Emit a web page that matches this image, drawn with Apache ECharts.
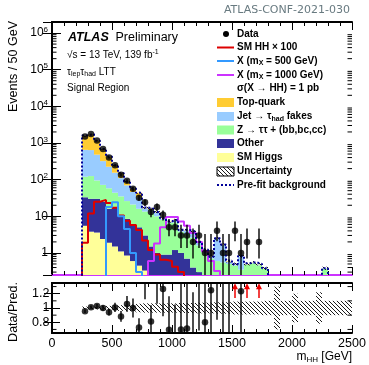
<!DOCTYPE html>
<html lang="en">
<head>
<meta charset="UTF-8">
<title>mHH LTT signal region</title>
<script src="https://cdn.jsdelivr.net/npm/echarts@6/dist/echarts.min.js"></script>
<style>
html, body { margin: 0; padding: 0; background: #fff; }
#chart { width: 369px; height: 365px; }
</style>
</head>
<body>
<div id="chart"></div>
<script>
// lower edges of the 50 GeV bins
var binLow = [250, 300, 350, 400, 450, 500, 550, 600, 650, 700, 750, 800, 850, 900, 950,
    1000, 1050, 1100, 1150, 1200, 1250, 1300, 1350, 1400, 1450, 1500, 1550, 1600, 1650, 1700,
    1750, 1800, 1850, 1900, 1950, 2000, 2050, 2100, 2150, 2200, 2250, 2300, 2350, 2400, 2450];
var binWidth = 50;

// observed events
var dataCounts = [1500, 1750, 1170, 680, 400, 245, 135, 93, 56, 32, 24, 13, 18, 11, 5,
    5, 3, 3, 2, 3, 1, 1, 4, 1, 1, 4, 1, 2, 0, 2,
    0, 0, 0, 0, 0, 0, 0, 0, 0, 0, 0, 0, 0, 0, 0];

// backgrounds (post-fit), bottom of the stack first
var smHiggs = [5.5, 3.8, 3.6, 2.4, 1.9, 1.5, 1.1, 0.85, 0.6, 0.45, 0.33, 0.25, 0.2, 0.15, 0.12,
    0.1, 0.08, 0.06, 0.05, 0.04, 0.03, 0.03, 0.02, 0.02, 0.02, 0.01, 0.01, 0.01, 0.01, 0.01,
    0.005, 0.005, 0.004, 0.003, 0.003, 0.003, 0.002, 0.002, 0.002, 0.002, 0.002, 0.002, 0.002, 0.002, 0.002];
var other = [27.5, 26.2, 26.4, 22.6, 14.1, 15.5, 8.9, 7.65, 5.2, 4.55, 2.67, 1.25, 0.8, 0.75, 0.78,
    1.1, 0.92, 0.64, 0.35, 0.26, 0.17, 0.12, 0.1, 0.08, 0.06, 0.05, 0.04, 0.03, 0.02, 0.02,
    0.015, 0.01, 0.01, 0.01, 0.01, 0.01, 0.008, 0.008, 0.008, 0.008, 0.008, 0.006, 0.006, 0.006, 0.006];
var zTauTau = [87, 95, 65, 47, 42, 27, 25, 17.5, 15.2, 11, 10.5, 10.1, 9, 7.1, 5.7,
    5.6, 2.8, 2.6, 2.2, 1.3, 0.9, 0.55, 0.48, 0.45, 0.42, 0.39, 0.3, 0.44, 0.49, 0.43,
    0.35, 0.17, 0.12, 0.1, 0.09, 0.14, 0.08, 0.08, 0.08, 0.15, 0.36, 0.07, 0.07, 0.07, 0.07];
var jetFakes = [530, 515, 385, 248, 167, 111, 75, 44, 25, 17, 3.0, 3.7, 2.6, 0.5, 0.4,
    1.0, 0.4, 0.8, 1.1, 0.35, 0.12, 0.08, 1.85, 1.1, 0.08, 0.04, 0.45, 0.01, 0.02, 0.03,
    0.005, 0.01, 0.01, 0.005, 0.005, 0.01, 0.005, 0.005, 0.005, 0.01, 0.01, 0.004, 0.004, 0.004, 0.004];
var topQuark = [920, 1090, 660, 360, 200, 88, 43, 18, 10, 11, 0.5, 0.7, 0.4, 0.2, 0.2,
    0.2, 0.1, 0.1, 0.1, 0.05, 0.03, 0.02, 0.05, 0.05, 0.02, 0.01, 0.01, 0.01, 0.01, 0.01,
    0.005, 0.005, 0.005, 0.002, 0.002, 0.002, 0.002, 0.002, 0.002, 0.002, 0.002, 0.001, 0.001, 0.001, 0.001];

// pre-fit total background
var preFit = [1600, 1760, 1150, 690, 430, 245, 150, 88, 57, 44, 17.5, 16, 13, 8.8, 7.3,
    8.1, 4.3, 4.2, 3.8, 2.0, 1.25, 0.8, 2.5, 1.7, 0.62, 0.5, 0.82, 0.52, 0.56, 0.5,
    0.38, 0.2, 0.15, 0.1, 0.1, 0.14, 0.1, 0.1, 0.1, 0.16, 0.38, 0.08, 0.08, 0.08, 0.08];

// relative uncertainty of the background
var relUnc = [0.02, 0.02, 0.02, 0.025, 0.03, 0.035, 0.04, 0.045, 0.05, 0.06, 0.065, 0.065, 0.065, 0.065, 0.065,
    0.065, 0.07, 0.07, 0.07, 0.075, 0.075, 0.075, 0.08, 0.08, 0.08, 0.09, 0.09, 0.09, 0.09, 0.09,
    0.1, 0.1, 0.3, 0.1, 0.1, 0.2, 0.1, 0.1, 0.1, 0.22, 0.1, 0.1, 0.1, 0.1, 0.1];

// signals
var smHH = [1.9, 12, 25, 28, 23, 17, 10.5, 7.5, 5.8, 4.2, 2.2, 1.2, 0.9, 0.65, 0.6,
    0.42, 0.3, 0.2, 0, 0, 0, 0, 0, 0, 0, 0, 0, 0, 0, 0,
    0, 0, 0, 0, 0, 0, 0, 0, 0, 0, 0, 0, 0, 0, 0];
var x500 = [0, 0, 0, 0, 18, 24, 10, 4.5, 1.0, 0.3, 0, 0, 0, 0, 0,
    0, 0, 0, 0, 0, 0, 0, 0, 0, 0, 0, 0, 0, 0, 0,
    0, 0, 0, 0, 0, 0, 0, 0, 0, 0, 0, 0, 0, 0, 0];
var x1000 = [0, 0, 0, 0, 0, 0, 0, 0, 0, 0, 0, 0.6, 1.8, 5, 9.5,
    9.5, 7.2, 5.5, 3.5, 2.0, 1.1, 0.6, 0.32, 0, 0, 0, 0, 0, 0, 0,
    0, 0, 0, 0, 0, 0, 0, 0, 0, 0, 0, 0, 0, 0, 0];

var xTicks = [0, 500, 1000, 1500, 2000, 2500];
var ratioLabels = [0.8, 1, 1.2];

var FONT = '"Liberation Sans", Arial, Helvetica, sans-serif';
var TINY = 1e-4;
var YMIN = 0.25, YMAX = 2e6, RMIN = 0.65, RMAX = 1.35;
var nb = binLow.length;

// small-count poisson intervals (68%)
var garwood = {1: [0.173, 3.30], 2: [0.708, 4.64], 3: [1.37, 5.92], 4: [2.09, 7.16], 5: [2.84, 8.38]};
function dataErr(n) {
    if (garwood[n]) return garwood[n];
    return [n - Math.sqrt(n), n + Math.sqrt(n)];
}

var stackVals = [smHiggs, other, zTauTau, jetFakes, topQuark];
var stackCols = ['#ffff99', '#333399', '#99ff99', '#99ccff', '#ffcc33'];

var total = [];
var stackRects = [[], [], [], [], []];
for (var i = 0; i < nb; i++) {
    var low = 0;
    for (var k = 0; k < stackVals.length; k++) {
        var up = low + stackVals[k][i];
        stackRects[k].push([binLow[i], binLow[i] + binWidth, low > 0 ? low : TINY, up]);
        low = up;
    }
    total.push(low);
}

var hatch = document.createElement('canvas');
hatch.width = 4; hatch.height = 4;
(function () {
    var c = hatch.getContext('2d');
    c.strokeStyle = '#000'; c.lineWidth = 0.9;
    c.beginPath();
    c.moveTo(0, 0); c.lineTo(4, 4);
    c.moveTo(-2, 2); c.lineTo(2, 6);
    c.moveTo(2, -2); c.lineTo(6, 2);
    c.stroke();
})();
var hatchFill = {image: hatch, repeat: 'repeat'};

var mainUnc = [], ratioUnc = [];
for (var i = 0; i < nb; i++) {
    mainUnc.push([binLow[i], binLow[i] + binWidth, total[i] * (1 - relUnc[i]), total[i] * (1 + relUnc[i])]);
    ratioUnc.push([binLow[i], binLow[i] + binWidth, 1 - relUnc[i], 1 + relUnc[i]]);
}

var dataPts = [], dataBars = [], ratioPts = [], ratioBars = [], ratioArrows = [];
for (var i = 0; i < nb; i++) {
    var n = dataCounts[i];
    if (n <= 0) continue;
    var xc = binLow[i] + binWidth / 2;
    var e = dataErr(n);
    dataPts.push([xc, n]);
    dataBars.push([xc, e[0], e[1]]);
    var r = n / total[i];
    if (e[0] / total[i] > RMAX) {
        ratioArrows.push([xc, 1.14, 1.345]);
    } else {
        ratioPts.push([xc, r]);
        ratioBars.push([xc, e[0] / total[i], e[1] / total[i]]);
    }
}

function stepPoints(vals) {
    var pts = [[binLow[0], TINY]];
    for (var i = 0; i < nb; i++) {
        var v = vals[i] > 0 ? vals[i] : TINY;
        pts.push([binLow[i], v]);
        pts.push([binLow[i] + binWidth, v]);
    }
    pts.push([binLow[nb - 1] + binWidth, TINY]);
    return pts;
}

function rectSeries(data, fill, z, gi, stroke) {
    return {
        type: 'custom', xAxisIndex: gi * 2, yAxisIndex: gi * 2, z: z, silent: true,
        encode: {x: [0, 1], y: [2, 3]}, data: data,
        renderItem: function (params, api) {
            var a = api.coord([api.value(0), api.value(3)]);
            var b = api.coord([api.value(1), api.value(2)]);
            var cs = params.coordSys;
            var sh = echarts.graphic.clipRectByRect(
                {x: a[0], y: a[1], width: b[0] - a[0], height: b[1] - a[1]},
                {x: cs.x, y: cs.y, width: cs.width, height: cs.height});
            if (!sh) return;
            return {type: 'rect', shape: sh, style: {fill: fill, stroke: stroke || null}};
        }
    };
}

function barSeries(data, gi, z) {
    return {
        type: 'custom', xAxisIndex: gi * 2, yAxisIndex: gi * 2, z: z, silent: true,
        encode: {x: 0, y: [1, 2]}, data: data,
        renderItem: function (params, api) {
            var cs = params.coordSys;
            var p0 = api.coord([api.value(0), api.value(1)]);
            var p1 = api.coord([api.value(0), api.value(2)]);
            var y0 = Math.min(Math.max(p0[1], cs.y), cs.y + cs.height);
            var y1 = Math.min(Math.max(p1[1], cs.y), cs.y + cs.height);
            if (y0 === y1) return;
            return {type: 'line', shape: {x1: p0[0], y1: y0, x2: p0[0], y2: y1},
                style: {stroke: '#000', lineWidth: 1.4}};
        }
    };
}

function minorTickSeries(values, gi, len) {
    return {
        type: 'custom', xAxisIndex: gi * 2, yAxisIndex: gi * 2, z: 10, silent: true,
        encode: {y: 0}, data: values.map(function (v) { return [v]; }),
        renderItem: function (params, api) {
            var cs = params.coordSys;
            var y = api.coord([0, api.value(0)])[1];
            if (y < cs.y || y > cs.y + cs.height) return;
            return {type: 'group', children: [
                {type: 'line', shape: {x1: cs.x, y1: y, x2: cs.x + len, y2: y}, style: {stroke: '#000', lineWidth: 1}},
                {type: 'line', shape: {x1: cs.x + cs.width - len, y1: y, x2: cs.x + cs.width, y2: y}, style: {stroke: '#000', lineWidth: 1}}
            ]};
        }
    };
}

var logMinor = [];
for (var d = -1; d <= 6; d++) {
    for (var m = 2; m <= 9; m++) logMinor.push(m * Math.pow(10, d));
}
var ratioMinor = [0.7, 0.9, 1.1, 1.3];

function xAxisCfg(gi, pos, labels, lineColor) {
    return {
        gridIndex: gi, type: 'value', position: pos, min: 0, max: 2500, interval: 500,
        axisLine: {show: true, onZero: false, lineStyle: {color: lineColor, width: 2}},
        axisTick: {inside: true, length: 8, lineStyle: {color: '#000'}},
        minorTick: {show: true, splitNumber: 5, length: 4, lineStyle: {color: '#000'}},
        splitLine: {show: false}, minorSplitLine: {show: false},
        axisLabel: labels ? {show: true, fontFamily: FONT, fontSize: 12.5, color: '#000', margin: 4,
            customValues: xTicks, formatter: function (v) { return String(v); }} : {show: false}
    };
}

function logLabel(v) {
    var p = Math.round(Math.log10(v));
    if (Math.abs(Math.log10(v) - p) > 1e-6) return '';
    if (p === 0) return '1';
    if (p === 1) return '10';
    return '10{sup|' + p + '}';
}

var richSup = {
    sup: {fontFamily: FONT, fontSize: 8, color: '#000', padding: [0, 0, 7, 0]}
};

var legendRows = [
    {y: 34, kind: 'dot', text: 'Data'},
    {y: 47.5, kind: 'line', color: '#dd0000', text: 'SM HH \u00d7 100'},
    {y: 61, kind: 'line', color: '#3399ff', text: 'X (m{sub|X} = 500 GeV)'},
    {y: 75, kind: 'line', color: '#cc33ff', text: 'X (m{sub|X} = 1000 GeV)'},
    {y: 88.5, kind: 'none', text: '\u03c3(X \u2192 HH) = 1 pb'},
    {y: 102.5, kind: 'box', color: stackCols[4], text: 'Top-quark'},
    {y: 116.5, kind: 'box', color: stackCols[3], text: 'Jet \u2192 \u03c4{sub|had} fakes'},
    {y: 130, kind: 'box', color: stackCols[2], text: 'Z \u2192 \u03c4\u03c4 + (bb,bc,cc)'},
    {y: 143.5, kind: 'box', color: stackCols[1], text: 'Other'},
    {y: 157.5, kind: 'box', color: stackCols[0], text: 'SM Higgs'},
    {y: 171.5, kind: 'hatch', text: 'Uncertainty'},
    {y: 185, kind: 'dots', color: '#000099', text: 'Pre-fit background'}
];

var legendRich = {
    sub: {fontFamily: FONT, fontWeight: 'bold', fontSize: 7, color: '#000', padding: [5, 0, 0, 0]}
};

var graphics = [];
legendRows.forEach(function (row) {
    var x0 = 217, x1 = 234;
    if (row.kind === 'dot') {
        graphics.push({type: 'circle', shape: {cx: 226, cy: row.y, r: 3}, style: {fill: '#000'}});
    } else if (row.kind === 'line') {
        graphics.push({type: 'line', shape: {x1: x0, y1: row.y, x2: x1, y2: row.y}, style: {stroke: row.color, lineWidth: 2}});
    } else if (row.kind === 'box') {
        graphics.push({type: 'rect', shape: {x: x0, y: row.y - 4.5, width: x1 - x0, height: 9}, style: {fill: row.color}});
    } else if (row.kind === 'hatch') {
        graphics.push({type: 'rect', shape: {x: x0, y: row.y - 4.5, width: x1 - x0, height: 9}, style: {fill: hatchFill, stroke: '#000', lineWidth: 1}});
    } else if (row.kind === 'dots') {
        graphics.push({type: 'line', shape: {x1: x0, y1: row.y, x2: x1, y2: row.y}, style: {stroke: row.color, lineWidth: 2, lineDash: [2, 2]}});
    }
    graphics.push({type: 'text', x: 237, y: row.y, style: {text: row.text, fontFamily: FONT, fontWeight: 'bold',
        fontSize: 10, fill: '#000', align: 'left', verticalAlign: 'middle', rich: legendRich}});
});

var plainRich = {
    sub: {fontFamily: FONT, fontSize: 7, color: '#000', padding: [5, 0, 0, 0]},
    sup: {fontFamily: FONT, fontSize: 7, color: '#000', padding: [0, 0, 6, 0]}
};

graphics.push(
    {type: 'text', x: 350, y: 10, style: {text: 'ATLAS-CONF-2021-030', fontFamily: '"DejaVu Sans", sans-serif', fontSize: 11,
        fill: '#687a80', align: 'right', verticalAlign: 'middle'}},
    {type: 'text', x: 68, y: 38, style: {text: 'ATLAS', fontFamily: FONT, fontWeight: 'bold', fontStyle: 'italic',
        fontSize: 12.5, fill: '#000', align: 'left', verticalAlign: 'middle'}},
    {type: 'text', x: 115.5, y: 38, style: {text: 'Preliminary', fontFamily: FONT, fontSize: 12.5,
        fill: '#000', align: 'left', verticalAlign: 'middle'}},
    {type: 'text', x: 67, y: 55.5, style: {text: '\u221as = 13 TeV, 139 fb{sup|-1}', fontFamily: FONT, fontSize: 10,
        fill: '#000', align: 'left', verticalAlign: 'middle', rich: plainRich}},
    {type: 'text', x: 67, y: 72, style: {text: '\u03c4{sub|lep}\u03c4{sub|had} LTT', fontFamily: FONT, fontSize: 10,
        fill: '#000', align: 'left', verticalAlign: 'middle', rich: plainRich}},
    {type: 'text', x: 67, y: 88, style: {text: 'Signal Region', fontFamily: FONT, fontSize: 10,
        fill: '#000', align: 'left', verticalAlign: 'middle'}},
    {type: 'text', x: 14, y: 21, rotation: Math.PI / 2, style: {text: 'Events / 50 GeV', fontFamily: FONT, fontSize: 12.5,
        fill: '#000', align: 'right', verticalAlign: 'middle'}},
    {type: 'text', x: 14, y: 312, rotation: Math.PI / 2, style: {text: 'Data/Pred.', fontFamily: FONT, fontSize: 12.5,
        fill: '#000', align: 'center', verticalAlign: 'middle'}},
    {type: 'text', x: 352, y: 357, style: {text: 'm{sub|HH} [GeV]', fontFamily: FONT, fontSize: 12,
        fill: '#000', align: 'right', verticalAlign: 'middle',
        rich: {sub: {fontFamily: FONT, fontSize: 8, color: '#000', padding: [6, 0, 0, 0]}}}}
);

var series = [];
for (var k = 0; k < stackVals.length; k++) {
    series.push(rectSeries(stackRects[k], stackCols[k], 1, 0));
}
series.push(rectSeries(mainUnc, hatchFill, 2, 0));
series.push({type: 'line', xAxisIndex: 0, yAxisIndex: 0, z: 3, data: stepPoints(smHH), symbol: 'none',
    lineStyle: {color: '#dd0000', width: 2}, silent: true});
series.push({type: 'line', xAxisIndex: 0, yAxisIndex: 0, z: 3, data: stepPoints(x500), symbol: 'none',
    lineStyle: {color: '#3399ff', width: 2}, silent: true});
series.push({type: 'line', xAxisIndex: 0, yAxisIndex: 0, z: 3, data: stepPoints(x1000), symbol: 'none',
    lineStyle: {color: '#cc33ff', width: 2}, silent: true});
series.push({type: 'line', xAxisIndex: 0, yAxisIndex: 0, z: 4, data: stepPoints(preFit), symbol: 'none',
    lineStyle: {color: '#000099', width: 2, type: [2, 2]}, silent: true});
series.push(barSeries(dataBars, 0, 5));
series.push({type: 'scatter', xAxisIndex: 0, yAxisIndex: 0, z: 6, data: dataPts, symbolSize: 6.5,
    itemStyle: {color: '#000'}, silent: true});
series.push(minorTickSeries(logMinor, 0, 4.5));

series.push(rectSeries(ratioUnc, hatchFill, 2, 1));
series.push(barSeries(ratioBars, 1, 5));
series.push({type: 'scatter', xAxisIndex: 2, yAxisIndex: 2, z: 6, data: ratioPts, symbolSize: 6.5,
    itemStyle: {color: '#000'}, silent: true, clip: true});
series.push({
    type: 'custom', xAxisIndex: 2, yAxisIndex: 2, z: 6, silent: true,
    encode: {x: 0, y: [1, 2]}, data: ratioArrows,
    renderItem: function (params, api) {
        var p0 = api.coord([api.value(0), api.value(1)]);
        var p1 = api.coord([api.value(0), api.value(2)]);
        return {type: 'group', children: [
            {type: 'line', shape: {x1: p0[0], y1: p0[1], x2: p1[0], y2: p1[1] + 3}, style: {stroke: '#ee0000', lineWidth: 1.5}},
            {type: 'polygon', shape: {points: [[p1[0] - 3, p1[1] + 6], [p1[0] + 3, p1[1] + 6], [p1[0], p1[1]]]}, style: {fill: '#ee0000'}}
        ]};
    }
});
series.push(minorTickSeries(ratioMinor, 1, 4.5));

var option = {
    animation: false,
    backgroundColor: '#fff',
    grid: [
        {left: 52, top: 22, width: 300, height: 253},
        {left: 52, top: 283, width: 300, height: 50}
    ],
    xAxis: [
        xAxisCfg(0, 'bottom', false, '#cc33ff'),
        xAxisCfg(0, 'top', false, '#000'),
        xAxisCfg(1, 'bottom', true, '#000'),
        xAxisCfg(1, 'top', false, '#000')
    ],
    yAxis: [
        {gridIndex: 0, type: 'log', position: 'left', min: YMIN, max: YMAX, splitNumber: 7,
            axisLine: {show: true, lineStyle: {color: '#000', width: 2}},
            axisTick: {inside: true, length: 9, lineStyle: {color: '#000'}},
            splitLine: {show: false},
            axisLabel: {fontFamily: FONT, fontSize: 12, color: '#000', margin: 4, showMinLabel: false, showMaxLabel: false,
                formatter: logLabel, rich: richSup}},
        {gridIndex: 0, type: 'log', position: 'right', min: YMIN, max: YMAX, splitNumber: 7,
            axisLine: {show: true, lineStyle: {color: '#000', width: 2}},
            axisTick: {inside: true, length: 9, lineStyle: {color: '#000'}},
            splitLine: {show: false}, axisLabel: {show: false}},
        {gridIndex: 1, type: 'value', position: 'left', min: RMIN, max: RMAX,
            axisLine: {show: true, lineStyle: {color: '#000', width: 2}},
            axisTick: {inside: true, length: 8, lineStyle: {color: '#000'}, customValues: ratioLabels},
            splitLine: {show: false},
            axisLabel: {fontFamily: FONT, fontSize: 12.5, color: '#000', margin: 2.5,
                customValues: ratioLabels, formatter: function (v) { return String(v); }}},
        {gridIndex: 1, type: 'value', position: 'right', min: RMIN, max: RMAX,
            axisLine: {show: true, lineStyle: {color: '#000', width: 2}},
            axisTick: {inside: true, length: 8, lineStyle: {color: '#000'}, customValues: ratioLabels},
            splitLine: {show: false}, axisLabel: {show: false}}
    ],
    graphic: graphics,
    series: series
};

var chart = echarts.init(document.getElementById('chart'));
chart.setOption(option);
</script>
</body>
</html>
